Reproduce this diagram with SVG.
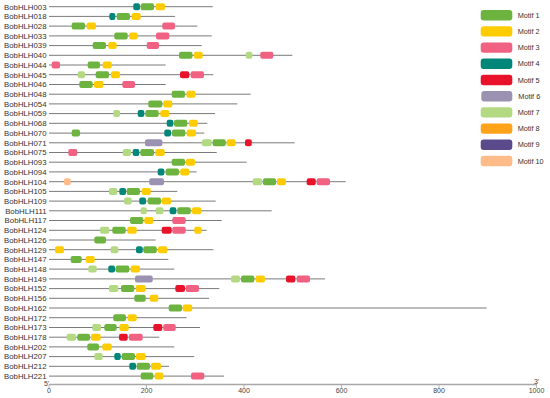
<svg xmlns="http://www.w3.org/2000/svg" width="550" height="398" viewBox="0 0 550 398">
<style>
text{font-family:"Liberation Sans",Arial,sans-serif;fill:#333}
.lbl{font-size:7.8px;text-anchor:end}
.lg{font-size:7.3px}
.ax{font-size:7px;text-anchor:middle;fill:#444}
.bb{stroke:#7a7a7a;stroke-width:1}
.axis{stroke:#a8a8a8;stroke-width:1.5}
.tick{stroke:#a8a8a8;stroke-width:0.8}
.m1{fill:#6db33f}.m2{fill:#ffcc00}.m3{fill:#f06182}.m4{fill:#00877a}.m5{fill:#e8132b}
.m6{fill:#9a92b0}.m7{fill:#b3d983}.m8{fill:#ffa31a}.m9{fill:#5b4a8b}.m10{fill:#ffbb88}
</style>
<g id="genes">
<g id="BobHLH003" transform="translate(0,6.7)"><text class="lbl" x="46.5" y="2.8">BobHLH003</text><line class="bb" x1="49" y1="0" x2="212.7" y2="0"/><rect class="m4" x="133.3" y="-3.5" width="6.7" height="7" rx="2"/><rect class="m1" x="140.7" y="-3.5" width="13.3" height="7" rx="2"/><rect class="m2" x="155.7" y="-3.5" width="9.3" height="7" rx="2"/></g>
<g id="BobHLH018" transform="translate(0,16.4)"><text class="lbl" x="46.5" y="2.8">BobHLH018</text><line class="bb" x1="49" y1="0" x2="175" y2="0"/><rect class="m4" x="109.3" y="-3.5" width="6" height="7" rx="2"/><rect class="m1" x="116.7" y="-3.5" width="13.3" height="7" rx="2"/><rect class="m2" x="131.7" y="-3.5" width="9" height="7" rx="2"/></g>
<g id="BobHLH028" transform="translate(0,26.1)"><text class="lbl" x="46.5" y="2.8">BobHLH028</text><line class="bb" x1="49" y1="0" x2="197.3" y2="0"/><rect class="m1" x="71.7" y="-3.5" width="13.3" height="7" rx="2"/><rect class="m2" x="86.7" y="-3.5" width="9.3" height="7" rx="2"/><rect class="m3" x="162.3" y="-3.5" width="12.7" height="7" rx="2"/></g>
<g id="BobHLH033" transform="translate(0,35.9)"><text class="lbl" x="46.5" y="2.8">BobHLH033</text><line class="bb" x1="49" y1="0" x2="211.7" y2="0"/><rect class="m1" x="114.3" y="-3.5" width="13.4" height="7" rx="2"/><rect class="m2" x="129.3" y="-3.5" width="8.4" height="7" rx="2"/><rect class="m3" x="156" y="-3.5" width="13.3" height="7" rx="2"/></g>
<g id="BobHLH039" transform="translate(0,45.6)"><text class="lbl" x="46.5" y="2.8">BobHLH039</text><line class="bb" x1="49" y1="0" x2="201.7" y2="0"/><rect class="m1" x="92.7" y="-3.5" width="13.3" height="7" rx="2"/><rect class="m2" x="108.3" y="-3.5" width="8.4" height="7" rx="2"/><rect class="m3" x="146.7" y="-3.5" width="12.3" height="7" rx="2"/></g>
<g id="BobHLH040" transform="translate(0,55.3)"><text class="lbl" x="46.5" y="2.8">BobHLH040</text><line class="bb" x1="49" y1="0" x2="292.3" y2="0"/><rect class="m1" x="179" y="-3.5" width="13.5" height="7" rx="2"/><rect class="m2" x="194" y="-3.5" width="8.7" height="7" rx="2"/><rect class="m7" x="245.7" y="-3.5" width="6.6" height="7" rx="2"/><rect class="m3" x="260.3" y="-3.5" width="13" height="7" rx="2"/></g>
<g id="BobHLH044" transform="translate(0,65)"><text class="lbl" x="46.5" y="2.8">BobHLH044</text><line class="bb" x1="49" y1="0" x2="165.7" y2="0"/><rect class="m3" x="51.7" y="-3.5" width="8.3" height="7" rx="2"/><rect class="m1" x="87.7" y="-3.5" width="12.3" height="7" rx="2"/><rect class="m2" x="102.7" y="-3.5" width="9" height="7" rx="2"/></g>
<g id="BobHLH045" transform="translate(0,74.7)"><text class="lbl" x="46.5" y="2.8">BobHLH045</text><line class="bb" x1="49" y1="0" x2="213.3" y2="0"/><rect class="m7" x="77.7" y="-3.5" width="7.3" height="7" rx="2"/><rect class="m1" x="95.7" y="-3.5" width="13.3" height="7" rx="2"/><rect class="m2" x="111" y="-3.5" width="9" height="7" rx="2"/><rect class="m5" x="180" y="-3.5" width="9.3" height="7" rx="2"/><rect class="m3" x="190.7" y="-3.5" width="13.3" height="7" rx="2"/></g>
<g id="BobHLH046" transform="translate(0,84.5)"><text class="lbl" x="46.5" y="2.8">BobHLH046</text><line class="bb" x1="49" y1="0" x2="165.7" y2="0"/><rect class="m1" x="79.3" y="-3.5" width="13.4" height="7" rx="2"/><rect class="m2" x="94" y="-3.5" width="9.3" height="7" rx="2"/><rect class="m3" x="122.3" y="-3.5" width="12.7" height="7" rx="2"/></g>
<g id="BobHLH048" transform="translate(0,94.2)"><text class="lbl" x="46.5" y="2.8">BobHLH048</text><line class="bb" x1="49" y1="0" x2="250.7" y2="0"/><rect class="m1" x="171.7" y="-3.5" width="13.3" height="7" rx="2"/><rect class="m2" x="186.5" y="-3.5" width="9" height="7" rx="2"/></g>
<g id="BobHLH054" transform="translate(0,103.9)"><text class="lbl" x="46.5" y="2.8">BobHLH054</text><line class="bb" x1="49" y1="0" x2="237.3" y2="0"/><rect class="m1" x="148.3" y="-3.5" width="14" height="7" rx="2"/><rect class="m2" x="163.3" y="-3.5" width="9" height="7" rx="2"/></g>
<g id="BobHLH059" transform="translate(0,113.6)"><text class="lbl" x="46.5" y="2.8">BobHLH059</text><line class="bb" x1="49" y1="0" x2="215" y2="0"/><rect class="m7" x="113.3" y="-3.5" width="6.7" height="7" rx="2"/><rect class="m4" x="137.7" y="-3.5" width="6.6" height="7" rx="2"/><rect class="m1" x="145.3" y="-3.5" width="13.4" height="7" rx="2"/><rect class="m2" x="160.3" y="-3.5" width="9" height="7" rx="2"/></g>
<g id="BobHLH068" transform="translate(0,123.3)"><text class="lbl" x="46.5" y="2.8">BobHLH068</text><line class="bb" x1="49" y1="0" x2="207.3" y2="0"/><rect class="m4" x="166.7" y="-3.5" width="6.6" height="7" rx="2"/><rect class="m1" x="174" y="-3.5" width="13.3" height="7" rx="2"/><rect class="m2" x="189" y="-3.5" width="8.8" height="7" rx="2"/></g>
<g id="BobHLH070" transform="translate(0,133.1)"><text class="lbl" x="46.5" y="2.8">BobHLH070</text><line class="bb" x1="49" y1="0" x2="204.3" y2="0"/><rect class="m1" x="71.7" y="-3.5" width="8.3" height="7" rx="2"/><rect class="m4" x="164.3" y="-3.5" width="6.7" height="7" rx="2"/><rect class="m1" x="172" y="-3.5" width="13.3" height="7" rx="2"/><rect class="m2" x="186.7" y="-3.5" width="9.3" height="7" rx="2"/></g>
<g id="BobHLH071" transform="translate(0,142.8)"><text class="lbl" x="46.5" y="2.8">BobHLH071</text><line class="bb" x1="49" y1="0" x2="294.7" y2="0"/><rect class="m6" x="145" y="-3.5" width="17.3" height="7" rx="2"/><rect class="m7" x="202" y="-3.5" width="9.7" height="7" rx="2"/><rect class="m1" x="212.7" y="-3.5" width="13" height="7" rx="2"/><rect class="m2" x="226.7" y="-3.5" width="9" height="7" rx="2"/><rect class="m5" x="245" y="-3.5" width="6.7" height="7" rx="2"/></g>
<g id="BobHLH075" transform="translate(0,152.5)"><text class="lbl" x="46.5" y="2.8">BobHLH075</text><line class="bb" x1="49" y1="0" x2="216.7" y2="0"/><rect class="m3" x="68.3" y="-3.5" width="9" height="7" rx="2"/><rect class="m7" x="122.7" y="-3.5" width="8.3" height="7" rx="2"/><rect class="m4" x="132.7" y="-3.5" width="6.6" height="7" rx="2"/><rect class="m1" x="140.3" y="-3.5" width="13.7" height="7" rx="2"/><rect class="m2" x="155.3" y="-3.5" width="9.4" height="7" rx="2"/></g>
<g id="BobHLH093" transform="translate(0,162.2)"><text class="lbl" x="46.5" y="2.8">BobHLH093</text><line class="bb" x1="49" y1="0" x2="246.7" y2="0"/><rect class="m1" x="171.7" y="-3.5" width="13.3" height="7" rx="2"/><rect class="m2" x="186" y="-3.5" width="9" height="7" rx="2"/></g>
<g id="BobHLH094" transform="translate(0,171.9)"><text class="lbl" x="46.5" y="2.8">BobHLH094</text><line class="bb" x1="49" y1="0" x2="196.7" y2="0"/><rect class="m4" x="157.7" y="-3.5" width="6.6" height="7" rx="2"/><rect class="m1" x="165.7" y="-3.5" width="13.3" height="7" rx="2"/><rect class="m2" x="180.3" y="-3.5" width="9" height="7" rx="2"/></g>
<g id="BobHLH104" transform="translate(0,181.7)"><text class="lbl" x="46.5" y="2.8">BobHLH104</text><line class="bb" x1="49" y1="0" x2="345.7" y2="0"/><rect class="m10" x="64" y="-3.5" width="6.7" height="7" rx="2"/><rect class="m6" x="149.3" y="-3.5" width="14.7" height="7" rx="2"/><rect class="m7" x="252.7" y="-3.5" width="9.3" height="7" rx="2"/><rect class="m1" x="263" y="-3.5" width="13" height="7" rx="2"/><rect class="m2" x="277" y="-3.5" width="9" height="7" rx="2"/><rect class="m5" x="306.7" y="-3.5" width="9" height="7" rx="2"/><rect class="m3" x="316.7" y="-3.5" width="13.3" height="7" rx="2"/></g>
<g id="BobHLH105" transform="translate(0,191.4)"><text class="lbl" x="46.5" y="2.8">BobHLH105</text><line class="bb" x1="49" y1="0" x2="177.3" y2="0"/><rect class="m7" x="109" y="-3.5" width="8.3" height="7" rx="2"/><rect class="m4" x="119.3" y="-3.5" width="6.7" height="7" rx="2"/><rect class="m1" x="126.7" y="-3.5" width="13.3" height="7" rx="2"/><rect class="m2" x="141.7" y="-3.5" width="9" height="7" rx="2"/></g>
<g id="BobHLH109" transform="translate(0,201.1)"><text class="lbl" x="46.5" y="2.8">BobHLH109</text><line class="bb" x1="49" y1="0" x2="215.7" y2="0"/><rect class="m7" x="124" y="-3.5" width="7.7" height="7" rx="2"/><rect class="m4" x="139.3" y="-3.5" width="6.7" height="7" rx="2"/><rect class="m1" x="147.7" y="-3.5" width="13.3" height="7" rx="2"/><rect class="m2" x="161.7" y="-3.5" width="9.3" height="7" rx="2"/></g>
<g id="BobHLH111" transform="translate(0,210.8)"><text class="lbl" x="46.5" y="2.8">BobHLH111</text><line class="bb" x1="49" y1="0" x2="271.7" y2="0"/><rect class="m7" x="140.7" y="-3.5" width="6" height="7" rx="2"/><rect class="m7" x="155.7" y="-3.5" width="7.6" height="7" rx="2"/><rect class="m4" x="169.7" y="-3.5" width="6.6" height="7" rx="2"/><rect class="m1" x="177.3" y="-3.5" width="13.4" height="7" rx="2"/><rect class="m2" x="192" y="-3.5" width="9.3" height="7" rx="2"/></g>
<g id="BobHLH117" transform="translate(0,220.5)"><text class="lbl" x="46.5" y="2.8">BobHLH117</text><line class="bb" x1="49" y1="0" x2="221.7" y2="0"/><rect class="m1" x="130" y="-3.5" width="13.3" height="7" rx="2"/><rect class="m2" x="144.3" y="-3.5" width="9" height="7" rx="2"/><rect class="m3" x="172.3" y="-3.5" width="13.4" height="7" rx="2"/></g>
<g id="BobHLH124" transform="translate(0,230.3)"><text class="lbl" x="46.5" y="2.8">BobHLH124</text><line class="bb" x1="49" y1="0" x2="206.7" y2="0"/><rect class="m7" x="100" y="-3.5" width="9.3" height="7" rx="2"/><rect class="m1" x="112.3" y="-3.5" width="13.4" height="7" rx="2"/><rect class="m2" x="127.3" y="-3.5" width="9.4" height="7" rx="2"/><rect class="m5" x="161.7" y="-3.5" width="10" height="7" rx="2"/><rect class="m3" x="172.3" y="-3.5" width="13.4" height="7" rx="2"/><rect class="m2" x="194.3" y="-3.5" width="7.4" height="7" rx="2"/></g>
<g id="BobHLH126" transform="translate(0,240)"><text class="lbl" x="46.5" y="2.8">BobHLH126</text><line class="bb" x1="49" y1="0" x2="155.7" y2="0"/><rect class="m1" x="94.3" y="-3.5" width="11.7" height="7" rx="2"/></g>
<g id="BobHLH129" transform="translate(0,249.7)"><text class="lbl" x="46.5" y="2.8">BobHLH129</text><line class="bb" x1="49" y1="0" x2="213.3" y2="0"/><rect class="m2" x="55" y="-3.5" width="9" height="7" rx="2"/><rect class="m7" x="110.7" y="-3.5" width="7.6" height="7" rx="2"/><rect class="m4" x="136" y="-3.5" width="6.7" height="7" rx="2"/><rect class="m1" x="143.3" y="-3.5" width="13.4" height="7" rx="2"/><rect class="m2" x="158" y="-3.5" width="9.3" height="7" rx="2"/></g>
<g id="BobHLH147" transform="translate(0,259.4)"><text class="lbl" x="46.5" y="2.8">BobHLH147</text><line class="bb" x1="49" y1="0" x2="168.3" y2="0"/><rect class="m1" x="70.7" y="-3.5" width="11" height="7" rx="2"/><rect class="m2" x="85.7" y="-3.5" width="9" height="7" rx="2"/></g>
<g id="BobHLH148" transform="translate(0,269.1)"><text class="lbl" x="46.5" y="2.8">BobHLH148</text><line class="bb" x1="49" y1="0" x2="174.3" y2="0"/><rect class="m7" x="88.3" y="-3.5" width="8.4" height="7" rx="2"/><rect class="m4" x="108.3" y="-3.5" width="6.7" height="7" rx="2"/><rect class="m1" x="115.7" y="-3.5" width="13.6" height="7" rx="2"/><rect class="m2" x="130.7" y="-3.5" width="9.3" height="7" rx="2"/></g>
<g id="BobHLH149" transform="translate(0,278.9)"><text class="lbl" x="46.5" y="2.8">BobHLH149</text><line class="bb" x1="49" y1="0" x2="325" y2="0"/><rect class="m6" x="135" y="-3.5" width="17.7" height="7" rx="2"/><rect class="m7" x="231" y="-3.5" width="9" height="7" rx="2"/><rect class="m1" x="241" y="-3.5" width="13.3" height="7" rx="2"/><rect class="m2" x="255.7" y="-3.5" width="9.3" height="7" rx="2"/><rect class="m5" x="286" y="-3.5" width="9.3" height="7" rx="2"/><rect class="m3" x="296.7" y="-3.5" width="13.3" height="7" rx="2"/></g>
<g id="BobHLH152" transform="translate(0,288.6)"><text class="lbl" x="46.5" y="2.8">BobHLH152</text><line class="bb" x1="49" y1="0" x2="219.3" y2="0"/><rect class="m7" x="109" y="-3.5" width="9.3" height="7" rx="2"/><rect class="m1" x="121" y="-3.5" width="13.3" height="7" rx="2"/><rect class="m2" x="135.7" y="-3.5" width="10" height="7" rx="2"/><rect class="m5" x="175.3" y="-3.5" width="9.7" height="7" rx="2"/><rect class="m3" x="185.7" y="-3.5" width="13.3" height="7" rx="2"/></g>
<g id="BobHLH156" transform="translate(0,298.3)"><text class="lbl" x="46.5" y="2.8">BobHLH156</text><line class="bb" x1="49" y1="0" x2="209" y2="0"/><rect class="m1" x="134.3" y="-3.5" width="11.4" height="7" rx="2"/><rect class="m2" x="149.7" y="-3.5" width="8.6" height="7" rx="2"/></g>
<g id="BobHLH162" transform="translate(0,308)"><text class="lbl" x="46.5" y="2.8">BobHLH162</text><line class="bb" x1="49" y1="0" x2="486.7" y2="0"/><rect class="m1" x="168.7" y="-3.5" width="13.3" height="7" rx="2"/><rect class="m2" x="182.7" y="-3.5" width="9.6" height="7" rx="2"/></g>
<g id="BobHLH172" transform="translate(0,317.7)"><text class="lbl" x="46.5" y="2.8">BobHLH172</text><line class="bb" x1="49" y1="0" x2="186.5" y2="0"/><rect class="m1" x="113.3" y="-3.5" width="12.7" height="7" rx="2"/><rect class="m2" x="127.7" y="-3.5" width="9" height="7" rx="2"/></g>
<g id="BobHLH173" transform="translate(0,327.5)"><text class="lbl" x="46.5" y="2.8">BobHLH173</text><line class="bb" x1="49" y1="0" x2="200" y2="0"/><rect class="m7" x="92.3" y="-3.5" width="8.7" height="7" rx="2"/><rect class="m1" x="104.3" y="-3.5" width="12.4" height="7" rx="2"/><rect class="m2" x="119.3" y="-3.5" width="9.4" height="7" rx="2"/><rect class="m5" x="153.3" y="-3.5" width="9" height="7" rx="2"/><rect class="m3" x="163.3" y="-3.5" width="12.4" height="7" rx="2"/></g>
<g id="BobHLH178" transform="translate(0,337.2)"><text class="lbl" x="46.5" y="2.8">BobHLH178</text><line class="bb" x1="49" y1="0" x2="159.3" y2="0"/><rect class="m7" x="66.7" y="-3.5" width="9.3" height="7" rx="2"/><rect class="m1" x="77.3" y="-3.5" width="12.7" height="7" rx="2"/><rect class="m2" x="91" y="-3.5" width="9.7" height="7" rx="2"/><rect class="m5" x="119" y="-3.5" width="8.7" height="7" rx="2"/><rect class="m3" x="129" y="-3.5" width="13.7" height="7" rx="2"/></g>
<g id="BobHLH202" transform="translate(0,346.9)"><text class="lbl" x="46.5" y="2.8">BobHLH202</text><line class="bb" x1="49" y1="0" x2="174.3" y2="0"/><rect class="m1" x="87.3" y="-3.5" width="11.7" height="7" rx="2"/><rect class="m2" x="102.3" y="-3.5" width="9.4" height="7" rx="2"/></g>
<g id="BobHLH207" transform="translate(0,356.6)"><text class="lbl" x="46.5" y="2.8">BobHLH207</text><line class="bb" x1="49" y1="0" x2="194.2" y2="0"/><rect class="m7" x="94.3" y="-3.5" width="8.4" height="7" rx="2"/><rect class="m4" x="114.3" y="-3.5" width="6.4" height="7" rx="2"/><rect class="m1" x="121.7" y="-3.5" width="13.3" height="7" rx="2"/><rect class="m2" x="136" y="-3.5" width="9.7" height="7" rx="2"/></g>
<g id="BobHLH212" transform="translate(0,366.3)"><text class="lbl" x="46.5" y="2.8">BobHLH212</text><line class="bb" x1="49" y1="0" x2="169" y2="0"/><rect class="m4" x="129.3" y="-3.5" width="6.7" height="7" rx="2"/><rect class="m1" x="136.7" y="-3.5" width="13.3" height="7" rx="2"/><rect class="m2" x="151" y="-3.5" width="10" height="7" rx="2"/></g>
<g id="BobHLH221" transform="translate(0,376.1)"><text class="lbl" x="46.5" y="2.8">BobHLH221</text><line class="bb" x1="49" y1="0" x2="224" y2="0"/><rect class="m1" x="140.7" y="-3.5" width="12.6" height="7" rx="2"/><rect class="m2" x="154.7" y="-3.5" width="8.6" height="7" rx="2"/><rect class="m3" x="191" y="-3.5" width="13.3" height="7" rx="2"/></g>
</g>
<g id="connectors"></g>
<g id="axis">
<line class="axis" x1="49" y1="384.5" x2="537" y2="384.5"/>
<line class="tick" x1="49" y1="384.5" x2="49" y2="388"/>
<line class="tick" x1="146.5" y1="384.5" x2="146.5" y2="388"/>
<line class="tick" x1="244" y1="384.5" x2="244" y2="388"/>
<line class="tick" x1="341.5" y1="384.5" x2="341.5" y2="388"/>
<line class="tick" x1="439" y1="384.5" x2="439" y2="388"/>
<line class="tick" x1="536.5" y1="384.5" x2="536.5" y2="388"/>
<text class="ax" x="49" y="393">0</text>
<text class="ax" x="146.5" y="393">200</text>
<text class="ax" x="244" y="393">400</text>
<text class="ax" x="341.5" y="393">600</text>
<text class="ax" x="439" y="393">800</text>
<text class="ax" x="536.5" y="393">1000</text>
<text class="ax" x="46.5" y="385.5">5'</text>
<text class="ax" x="536.5" y="384">3'</text>
</g>
<g id="legend">
<g id="leg1"><rect class="m1" x="480.7" y="10" width="31.6" height="10.4" rx="3"/><text class="lg" x="517.7" y="17.8">Motif 1</text></g>
<g id="leg2"><rect class="m2" x="480.7" y="26.2" width="31.6" height="10.4" rx="3"/><text class="lg" x="517.7" y="34">Motif 2</text></g>
<g id="leg3"><rect class="m3" x="480.7" y="42.4" width="31.6" height="10.4" rx="3"/><text class="lg" x="517.7" y="50.2">Motif 3</text></g>
<g id="leg4"><rect class="m4" x="480.7" y="58.6" width="31.6" height="10.4" rx="3"/><text class="lg" x="517.7" y="66.4">Motif 4</text></g>
<g id="leg5"><rect class="m5" x="480.7" y="74.8" width="31.6" height="10.4" rx="3"/><text class="lg" x="517.7" y="82.6">Motif 5</text></g>
<g id="leg6"><rect class="m6" x="481.3" y="91" width="31" height="10.4" rx="3"/><text class="lg" x="518.3" y="98.8">Motif 6</text></g>
<g id="leg7"><rect class="m7" x="480.7" y="107.2" width="31.6" height="10.4" rx="3"/><text class="lg" x="517.7" y="115">Motif 7</text></g>
<g id="leg8"><rect class="m8" x="480.7" y="123.4" width="31.6" height="10.4" rx="3"/><text class="lg" x="517.7" y="131.2">Motif 8</text></g>
<g id="leg9"><rect class="m9" x="480.7" y="139.6" width="31.6" height="10.4" rx="3"/><text class="lg" x="517.7" y="147.4">Motif 9</text></g>
<g id="leg10"><rect class="m10" x="480.7" y="155.8" width="31.6" height="10.4" rx="3"/><text class="lg" x="517.7" y="163.6">Motif 10</text></g>
</g>
</svg>
